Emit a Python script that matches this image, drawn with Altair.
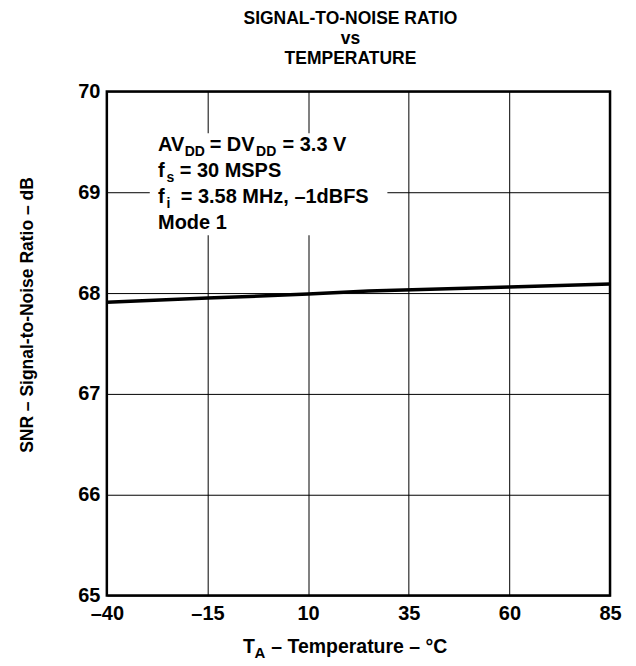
import altair as alt
import pandas as pd

# ---- data ----
temperature_c = [-40, -15, 10, 25, 60, 85]
snr_db = [67.91, 67.95, 67.99, 68.02, 68.06, 68.09]

x_ticks = [-40, -15, 10, 35, 60, 85]
y_ticks = [65, 66, 67, 68, 69, 70]

title_lines = ["SIGNAL-TO-NOISE RATIO", "vs", "TEMPERATURE"]
y_title = "SNR – Signal-to-Noise Ratio – dB"

df = pd.DataFrame({"T": temperature_c, "SNR": snr_db})

FONT = "Liberation Sans"
W, H = 504, 505

axis_common = dict(
    grid=True, gridColor="black", gridWidth=1, gridOpacity=1,
    domain=False, ticks=False, title=None,
    labelFont=FONT, labelFontSize=20, labelFontWeight="bold", labelColor="black",
    labelFlush=False, labelOverlap=False,
)

line = alt.Chart(df).mark_line(color="black", strokeWidth=3.5, clip=True).encode(
    x=alt.X("T:Q", scale=alt.Scale(domain=[-40, 85], nice=False, zero=False),
            axis=alt.Axis(values=x_ticks, labelPadding=8,
                          labelExpr="datum.value < 0 ? '–' + abs(datum.value) : '' + datum.value",
                          **axis_common)),
    y=alt.Y("SNR:Q", scale=alt.Scale(domain=[65, 70], nice=False, zero=False),
            axis=alt.Axis(values=y_ticks, labelPadding=7, **axis_common)),
)

one = alt.Data(values=[{}])


def txt(s, x, y, size=20, align="left", baseline="alphabetic", angle=None):
    kw = dict(text=s, align=align, baseline=baseline, font=FONT, fontSize=size,
              fontWeight="bold", color="black")
    if angle is not None:
        kw["angle"] = angle
    return alt.Chart(one).mark_text(**kw).encode(x=alt.value(x), y=alt.value(y))


box = alt.Chart(one).mark_rect(color="white").encode(
    x=alt.value(43), x2=alt.value(281), y=alt.value(42), y2=alt.value(144)
)

layers = [line, box]

# annotation (with subscripts)
SUB = 14
layers += [
    txt("AV", 51.3, 60), txt("DD", 78, 64.5, SUB),
    txt("= DV", 103, 60), txt("DD", 149.5, 64.5, SUB),
    txt("= 3.3 V", 176, 60),
    txt("f", 51.3, 85.5), txt("s", 59.7, 91, SUB), txt("= 30 MSPS", 73, 85.5),
    txt("f", 51.3, 111.5), txt("i", 59.7, 117, SUB), txt("= 3.58 MHz, –1dBFS", 74, 111.5),
    txt("Mode 1", 51.3, 138),
]

# title
TS = 17.5
layers += [
    txt(title_lines[0], 244, -67.5, TS, align="center"),
    txt(title_lines[1], 244, -47.5, TS, align="center"),
    txt(title_lines[2], 244, -27.5, TS, align="center"),
]

# x title  T_A – Temperature – °C
layers += [
    txt("T", 136.3, 563, 19.5),
    txt("A", 148, 567.5, 15),
    txt("– Temperature – °C", 164.7, 563, 19.5),
]

# y title
layers += [txt(y_title, -79, 224, 17.5, align="center", baseline="middle", angle=270)]

chart = alt.layer(*layers).properties(
    width=W, height=H,
    autosize=alt.AutoSizeParams(type="none"),
    padding={"left": 99, "top": 83, "right": 18, "bottom": 68},
    background="white",
).configure_view(stroke="black", strokeWidth=2.5)

chart.save("out.html", embed_options={"renderer": "svg", "actions": False})
